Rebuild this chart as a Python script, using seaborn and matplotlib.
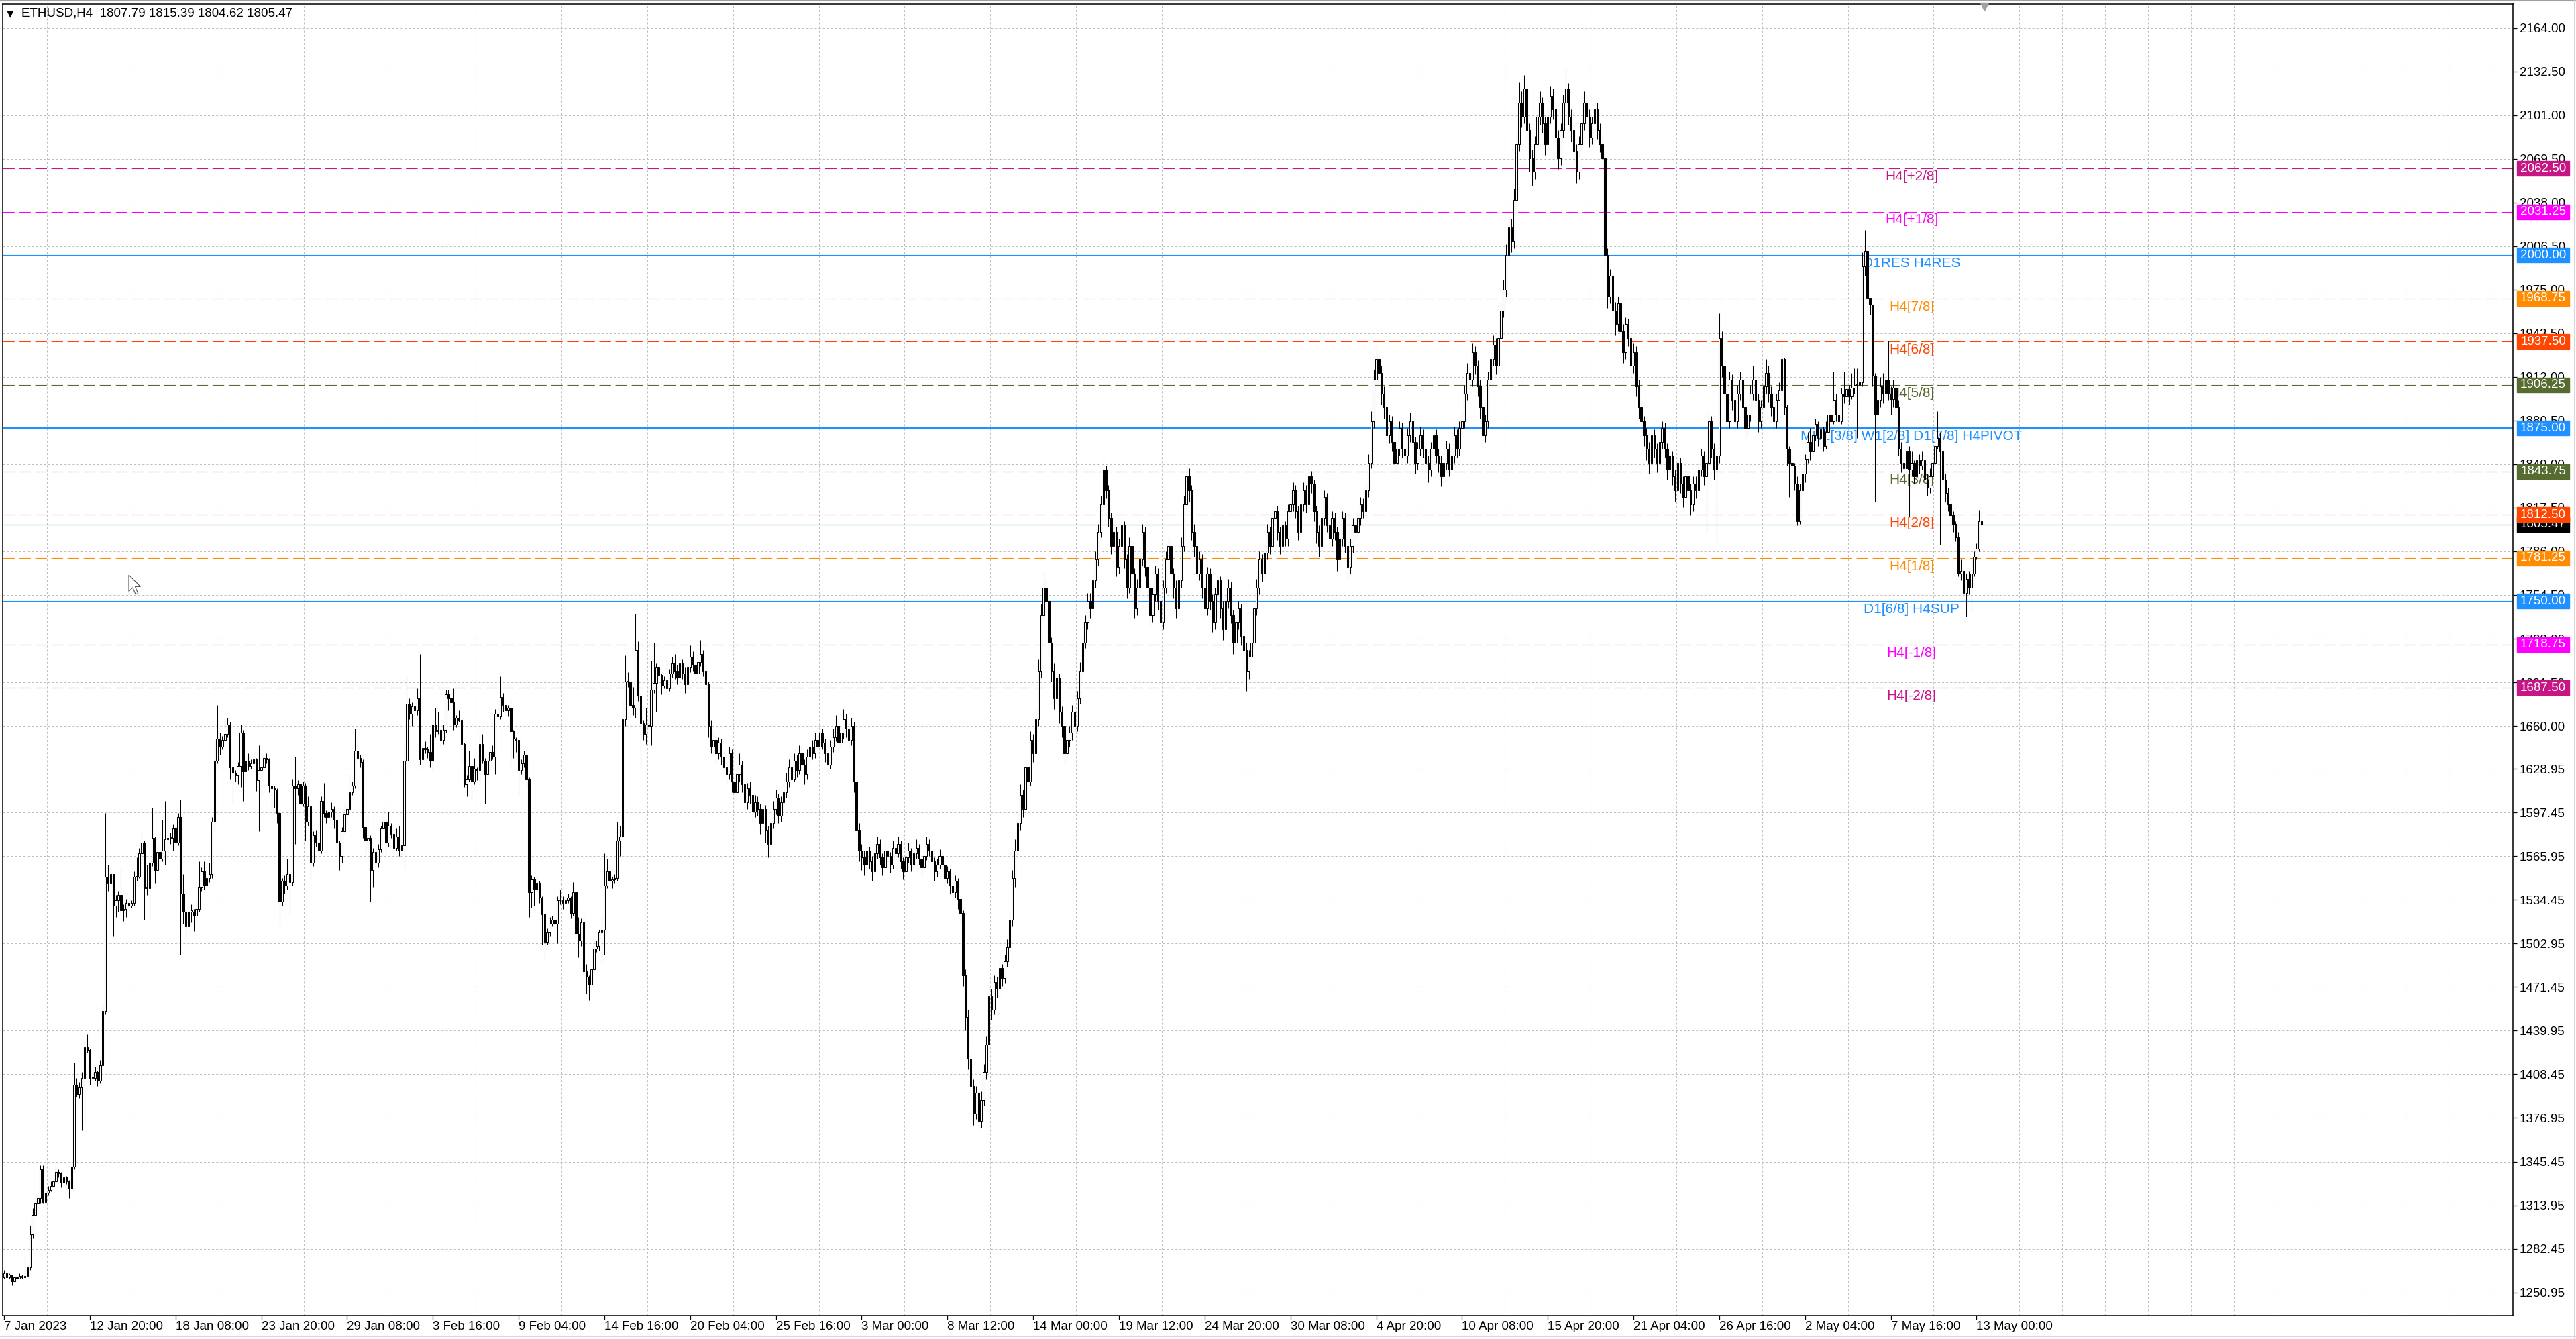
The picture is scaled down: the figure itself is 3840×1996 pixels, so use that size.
import numpy as np
import pandas as pd
import matplotlib
matplotlib.use("Agg")
import matplotlib.pyplot as plt
import matplotlib.transforms as mtransforms
from matplotlib.patches import Rectangle, Polygon
from matplotlib.lines import Line2D
import seaborn as sns

# ETHUSD H4 bars (close / high / low); open = previous close
first_open = 1262
close = [
    1265, 1262, 1264, 1259, 1262, 1261, 1263, 1262, 1263, 1269,
    1293, 1307, 1315, 1319, 1340, 1316, 1323, 1325, 1328, 1331,
    1338, 1337, 1330, 1334, 1331, 1326, 1342, 1401, 1394, 1399,
    1406, 1428, 1426, 1406, 1406, 1410, 1404, 1415, 1454, 1551,
    1546, 1553, 1530, 1534, 1538, 1527, 1528, 1532, 1530, 1532,
    1551, 1551, 1568, 1576, 1543, 1543, 1561, 1579, 1556, 1569,
    1564, 1570,
    1578, 1579, 1579, 1586, 1576, 1594, 1539, 1526, 1515, 1526,
    1526, 1523, 1528, 1544, 1555, 1545, 1550, 1553, 1591, 1635,
    1651, 1645, 1650, 1654, 1661, 1630, 1626, 1624, 1631, 1655,
    1627, 1635, 1631, 1633, 1636, 1621, 1628, 1630, 1637, 1636,
    1617, 1615, 1614, 1597, 1533, 1548, 1545, 1553, 1547, 1617,
    1615, 1618, 1604, 1617, 1591, 1602, 1561, 1581, 1576, 1570,
    1606, 1597, 1594, 1598, 1600, 1592, 1576,
    1566, 1584, 1596, 1600, 1612, 1617, 1642, 1637, 1634, 1587,
    1577, 1579, 1556, 1569, 1561, 1571, 1586, 1591, 1576, 1588,
    1582, 1572, 1580, 1570, 1574, 1635, 1676, 1669, 1674, 1671,
    1680, 1636, 1644, 1643, 1641, 1635, 1661, 1656, 1657, 1650,
    1657, 1683, 1680, 1677, 1661, 1666, 1664, 1647, 1618, 1622,
    1631, 1620, 1629, 1628, 1647, 1635, 1625, 1635, 1641, 1638,
    1669, 1667, 1681, 1675, 1671,
    1673, 1656, 1651, 1650, 1628, 1633, 1639, 1622, 1540, 1549,
    1542, 1546, 1536, 1524, 1504, 1511, 1517, 1520, 1517, 1534,
    1534, 1532, 1534, 1536, 1525, 1540, 1510, 1505, 1518, 1483,
    1479, 1473, 1484, 1499, 1501, 1511, 1513, 1545, 1555, 1548,
    1549, 1550, 1577, 1580, 1665, 1692, 1692, 1675, 1673, 1715,
    1682, 1662, 1654, 1661, 1660, 1686, 1691, 1702, 1697, 1689,
    1693, 1687, 1698, 1705,
    1700, 1695, 1705, 1698, 1690, 1702, 1710, 1704, 1698, 1706,
    1712, 1700, 1690, 1660, 1645, 1650, 1640, 1648, 1638, 1630,
    1625, 1640, 1620, 1612, 1625, 1632, 1618, 1605, 1615, 1610,
    1598, 1605, 1600, 1590, 1600, 1585, 1575, 1590, 1600, 1608,
    1595, 1605, 1612, 1620, 1630, 1622, 1635, 1628, 1640, 1632,
    1625, 1638, 1645, 1640, 1650, 1645, 1655, 1648, 1640, 1632,
    1645, 1652, 1660, 1648, 1655, 1665, 1658, 1650, 1660, 1620,
    1585, 1570, 1565, 1560, 1570, 1562, 1555, 1568, 1575, 1565,
    1558, 1570, 1566, 1560, 1572, 1568, 1575, 1562, 1555, 1565,
    1570, 1560, 1568, 1572, 1564, 1558, 1566, 1575, 1570, 1562,
    1555, 1560, 1566, 1560, 1550, 1555, 1545, 1540, 1548, 1535,
    1525, 1480, 1450, 1420, 1400, 1380, 1395, 1375, 1390, 1410,
    1430, 1465, 1455, 1475, 1470, 1485, 1478, 1490, 1500, 1520,
    1550, 1570, 1590, 1610, 1600, 1630, 1620, 1650, 1640, 1665,
    1700, 1740, 1760, 1750, 1720, 1700, 1680, 1695, 1670, 1660,
    1640, 1650, 1655, 1670, 1660, 1680, 1700, 1720, 1735, 1750,
    1745, 1765, 1780, 1800, 1820, 1845, 1830, 1810, 1790, 1800,
    1775, 1790, 1805, 1780, 1760, 1790, 1770, 1745, 1760, 1780,
    1800, 1775, 1760, 1740, 1755, 1770, 1750, 1735, 1760, 1780,
    1790, 1770, 1760, 1745, 1765, 1790, 1820, 1840, 1830, 1800,
    1790, 1770, 1780, 1760, 1745, 1770, 1750, 1735, 1755, 1765,
    1745, 1730, 1750, 1760, 1740, 1720, 1735, 1745, 1725, 1715,
    1700, 1710, 1720, 1745, 1760, 1780, 1770, 1785, 1800, 1790,
    1810, 1815, 1800, 1790, 1805, 1795, 1815, 1820, 1830, 1815,
    1800, 1820, 1830, 1820, 1840, 1835, 1815, 1800, 1790, 1810,
    1825, 1805, 1795, 1810, 1800, 1780, 1795, 1810, 1790, 1775,
    1790, 1805, 1800, 1810, 1820, 1815, 1830, 1850, 1880, 1910,
    1925, 1915, 1900, 1890, 1870, 1880, 1865, 1850, 1860, 1875,
    1860, 1855, 1870, 1880, 1865, 1850, 1860, 1870, 1860, 1850,
    1845, 1860, 1870, 1855, 1850, 1840, 1850, 1860, 1845, 1855,
    1870, 1860, 1875, 1880, 1900, 1915, 1910, 1930, 1920, 1905,
    1890, 1870, 1880, 1910, 1925, 1935, 1920, 1940, 1960, 1975,
    2000, 2020, 2010, 2040, 2080, 2110, 2100, 2120, 2090, 2070,
    2060, 2080, 2100, 2110, 2095, 2080, 2100, 2115, 2105, 2085,
    2070, 2090, 2110, 2120, 2100, 2090, 2075, 2060, 2080, 2095,
    2110, 2100, 2085, 2095, 2105, 2090, 2080, 2070, 2000, 1970,
    1985, 1960, 1950, 1965, 1945, 1930, 1950, 1940, 1920, 1930,
    1905, 1890, 1880, 1870, 1860, 1850, 1870, 1860, 1850, 1865,
    1875, 1860, 1845, 1855, 1840, 1830, 1850, 1835, 1825, 1840,
    1830, 1820, 1835, 1830, 1845, 1855, 1840, 1850, 1880, 1860,
    1845, 1855, 1940, 1920, 1900, 1880, 1910, 1895, 1880, 1900,
    1910, 1890, 1875, 1885, 1900, 1910, 1895, 1880, 1890, 1905,
    1915, 1900, 1890, 1880, 1895,
    1902, 1925, 1890, 1860, 1850, 1848, 1835, 1808, 1830, 1842,
    1853, 1865, 1858, 1870, 1878, 1868, 1874, 1862, 1872, 1885,
    1880, 1895, 1885, 1880, 1900, 1898, 1903, 1898, 1904, 1906,
    1906, 1908, 1992, 2003, 1969, 1964, 1913, 1885, 1895, 1905,
    1900, 1910, 1900, 1896, 1904, 1890, 1860, 1850, 1846, 1858,
    1845, 1850, 1840, 1852, 1848, 1852, 1838, 1832, 1840, 1850,
    1862, 1868, 1858, 1838, 1828, 1820, 1812, 1806, 1796, 1770,
    1772, 1756, 1766, 1760, 1770, 1782, 1788, 1807.79, 1805.47,
]
high = [
    1267, 1264, 1265, 1264, 1263, 1263, 1265, 1264, 1278, 1272,
    1299, 1312, 1321, 1322, 1343, 1343, 1326, 1328, 1331, 1333,
    1345, 1340, 1338, 1336, 1335, 1332, 1345, 1417, 1406, 1403,
    1410, 1432, 1437, 1427, 1409, 1414, 1411, 1419, 1460, 1597,
    1560, 1557, 1551, 1538, 1541, 1559, 1531, 1535, 1534, 1534,
    1555, 1565, 1572, 1585, 1577, 1560, 1565, 1601, 1580, 1575,
    1570, 1592,
    1606, 1597, 1583, 1589, 1588, 1597, 1607, 1553, 1528, 1530,
    1531, 1528, 1535, 1562, 1558, 1562, 1553, 1561, 1594, 1649,
    1675, 1655, 1653, 1665, 1666, 1663, 1632, 1628, 1634, 1661,
    1657, 1638, 1640, 1636, 1640, 1637, 1646, 1633, 1640, 1640,
    1637, 1619, 1617, 1615, 1599, 1550, 1552, 1564, 1556, 1622,
    1638, 1621, 1620, 1620, 1619, 1609, 1604, 1584, 1585, 1578,
    1609, 1619, 1599, 1601, 1605, 1602, 1580,
    1577, 1587, 1605, 1603, 1625, 1620, 1658, 1652, 1639, 1636,
    1594, 1595, 1581, 1572, 1572, 1575, 1588, 1603, 1593, 1598,
    1590, 1584, 1586, 1588, 1578, 1646, 1696, 1680, 1677, 1679,
    1687, 1712, 1647, 1649, 1645, 1654, 1665, 1673, 1670, 1659,
    1661, 1686, 1686, 1684, 1687, 1668, 1671, 1665, 1648, 1624,
    1642, 1632, 1637, 1630, 1657, 1654, 1637, 1638, 1644, 1646,
    1672, 1679, 1696, 1684, 1677,
    1675, 1680, 1657, 1652, 1651, 1636, 1642, 1647, 1623, 1552,
    1551, 1553, 1548, 1537, 1525, 1514, 1522, 1523, 1522, 1537,
    1542, 1537, 1537, 1539, 1537, 1547, 1541, 1522, 1521, 1524,
    1488, 1480, 1487, 1509, 1505, 1513, 1523, 1568, 1564, 1560,
    1551, 1553, 1591, 1588, 1678, 1711, 1699, 1695, 1688, 1741,
    1721, 1684, 1664, 1673, 1668, 1707, 1720, 1705, 1704, 1698,
    1696, 1712, 1701, 1710,
    1712, 1704, 1710, 1708, 1702, 1706, 1718, 1714, 1707, 1712,
    1722, 1715, 1704, 1692, 1664, 1656, 1654, 1652, 1651, 1642,
    1636, 1645, 1643, 1624, 1630, 1640, 1635, 1622, 1619, 1620,
    1613, 1610, 1609, 1604, 1605, 1603, 1588, 1594, 1606, 1614,
    1611, 1609, 1618, 1626, 1636, 1633, 1640, 1639, 1646, 1644,
    1636, 1643, 1652, 1650, 1655, 1654, 1660, 1658, 1651, 1644,
    1650, 1658, 1668, 1663, 1660, 1672, 1669, 1662, 1666, 1663,
    1624, 1590, 1575, 1570, 1574, 1573, 1566, 1572, 1580, 1578,
    1568, 1574, 1573, 1569, 1577, 1575, 1580, 1577, 1565, 1569,
    1576, 1572, 1572, 1578, 1575, 1567, 1570, 1580, 1578, 1572,
    1565, 1564, 1571, 1569, 1562, 1559, 1557, 1549, 1552, 1550,
    1538, 1527, 1484, 1455, 1424, 1405, 1400, 1398, 1396, 1416,
    1436, 1472, 1470, 1480, 1479, 1490, 1488, 1495, 1506, 1526,
    1556, 1578, 1598, 1618, 1614, 1636, 1634, 1656, 1654, 1672,
    1708, 1748, 1772, 1766, 1754, 1724, 1705, 1700, 1698, 1674,
    1664, 1655, 1660, 1675, 1674, 1685, 1706, 1726, 1740, 1756,
    1756, 1770, 1786, 1806, 1826, 1852, 1848, 1834, 1814, 1806,
    1804, 1795, 1810, 1808, 1784, 1796, 1794, 1774, 1766, 1786,
    1806, 1804, 1780, 1764, 1760, 1776, 1774, 1755, 1765, 1786,
    1796, 1794, 1774, 1765, 1770, 1796, 1826, 1848, 1846, 1834,
    1806, 1795, 1786, 1784, 1765, 1775, 1774, 1755, 1760, 1770,
    1768, 1750, 1755, 1766, 1764, 1744, 1740, 1750, 1748, 1730,
    1720, 1715, 1726, 1750, 1766, 1786, 1784, 1790, 1806, 1804,
    1815, 1822, 1819, 1804, 1810, 1808, 1820, 1826, 1836, 1834,
    1819, 1825, 1836, 1834, 1846, 1844, 1838, 1819, 1805, 1815,
    1830, 1828, 1810, 1815, 1814, 1804, 1800, 1815, 1814, 1794,
    1795, 1810, 1809, 1815, 1825, 1824, 1835, 1856, 1887, 1917,
    1935, 1930, 1920, 1905, 1894, 1885, 1884, 1869, 1866, 1880,
    1879, 1865, 1875, 1886, 1884, 1869, 1865, 1876, 1874, 1864,
    1855, 1865, 1876, 1874, 1860, 1855, 1855, 1866, 1864, 1860,
    1876, 1874, 1880, 1886, 1906, 1922, 1920, 1936, 1934, 1924,
    1910, 1894, 1885, 1916, 1930, 1942, 1940, 1946, 1966, 1982,
    2008, 2028, 2026, 2048, 2090, 2125, 2118, 2130, 2124, 2095,
    2076, 2086, 2106, 2118, 2114, 2100, 2106, 2122, 2120, 2110,
    2090, 2095, 2116, 2135, 2124, 2105, 2095, 2080, 2086, 2100,
    2118, 2115, 2105, 2100, 2112, 2110, 2095, 2086, 2074, 2005,
    1990, 1988, 1966, 1970, 1968, 1950, 1955, 1954, 1944, 1936,
    1934, 1910, 1895, 1884, 1875, 1865, 1875, 1874, 1864, 1870,
    1880, 1879, 1864, 1860, 1858, 1845, 1855, 1854, 1840, 1845,
    1844, 1835, 1840, 1840, 1850, 1860, 1858, 1855, 1886, 1884,
    1864, 1860, 1958, 1945, 1925, 1905, 1916, 1914, 1900, 1906,
    1916, 1914, 1895, 1890, 1906, 1920, 1914, 1900, 1895, 1910,
    1925, 1920, 1905, 1895, 1900,
    1908, 1937, 1926, 1892, 1862, 1856, 1850, 1840, 1835, 1846,
    1856, 1872, 1875, 1876, 1882, 1880, 1878, 1876, 1880, 1890,
    1888, 1916, 1900, 1890, 1904, 1916, 1908, 1906, 1915, 1918,
    1918, 1912, 2002, 2018, 2005, 1968, 1960, 1915, 1900, 1912,
    1915, 1926, 1938, 1905, 1910, 1908, 1895, 1865, 1860, 1864,
    1862, 1858, 1852, 1856, 1856, 1858, 1854, 1842, 1846, 1858,
    1866, 1887, 1872, 1860, 1842, 1832, 1825, 1815, 1808, 1800,
    1780, 1774, 1770, 1772, 1782, 1786, 1792, 1816, 1815.39,
]
low = [
    1261, 1261, 1261, 1256, 1258, 1259, 1261, 1261, 1261, 1262,
    1267, 1290, 1306, 1314, 1315, 1315, 1315, 1321, 1324, 1325,
    1330, 1334, 1327, 1328, 1329, 1319, 1324, 1340, 1392, 1391,
    1368, 1372, 1424, 1401, 1403, 1404, 1400, 1402, 1440, 1452,
    1541, 1544, 1508, 1522, 1526, 1520, 1519, 1522, 1526, 1529,
    1530, 1548, 1550, 1560, 1520, 1538, 1520, 1559, 1546, 1553,
    1561, 1562,
    1560, 1569, 1575, 1570, 1572, 1574, 1495, 1517, 1507, 1513,
    1518, 1512, 1518, 1526, 1541, 1542, 1543, 1547, 1550, 1583,
    1633, 1639, 1643, 1649, 1652, 1622, 1604, 1620, 1618, 1616,
    1606, 1620, 1628, 1629, 1630, 1613, 1584, 1609, 1628, 1633,
    1612, 1600, 1601, 1590, 1516, 1530, 1539, 1542, 1524, 1545,
    1575, 1610, 1600, 1602, 1577, 1588, 1549, 1559, 1573, 1566,
    1568, 1594, 1590, 1592, 1594, 1586, 1566,
    1556, 1561, 1582, 1588, 1598, 1610, 1615, 1634, 1630, 1579,
    1567, 1571, 1533, 1544, 1558, 1558, 1569, 1584, 1564, 1573,
    1579, 1566, 1570, 1566, 1563, 1557, 1632, 1665, 1660, 1668,
    1668, 1632, 1629, 1640, 1637, 1630, 1627, 1652, 1654, 1645,
    1647, 1655, 1671, 1671, 1657, 1659, 1663, 1634, 1616, 1609,
    1620, 1607, 1618, 1621, 1618, 1633, 1604, 1621, 1628, 1636,
    1625, 1664, 1665, 1670, 1668,
    1667, 1630, 1637, 1641, 1610, 1625, 1630, 1615, 1522, 1529,
    1530, 1539, 1532, 1502, 1490, 1502, 1508, 1515, 1514, 1503,
    1531, 1528, 1530, 1532, 1521, 1523, 1507, 1493, 1501, 1479,
    1467, 1462, 1470, 1482, 1497, 1498, 1489, 1495, 1543, 1546,
    1543, 1546, 1548, 1566, 1578, 1660, 1688, 1666, 1668, 1666,
    1678, 1630, 1650, 1647, 1657, 1646, 1684, 1670, 1694, 1683,
    1687, 1685, 1685, 1695,
    1694, 1690, 1692, 1694, 1684, 1687, 1699, 1700, 1692, 1695,
    1703, 1696, 1684, 1652, 1640, 1640, 1633, 1636, 1632, 1622,
    1618, 1622, 1612, 1605, 1608, 1620, 1612, 1598, 1600, 1604,
    1590, 1594, 1595, 1582, 1586, 1576, 1565, 1571, 1586, 1596,
    1590, 1591, 1600, 1608, 1616, 1617, 1620, 1623, 1625, 1628,
    1618, 1622, 1634, 1636, 1637, 1640, 1642, 1643, 1634, 1626,
    1629, 1641, 1649, 1642, 1644, 1651, 1652, 1644, 1646, 1612,
    1578, 1562, 1556, 1552, 1556, 1557, 1548, 1552, 1564, 1560,
    1552, 1555, 1561, 1554, 1557, 1563, 1565, 1557, 1549, 1551,
    1561, 1555, 1557, 1564, 1560, 1551, 1554, 1563, 1566, 1557,
    1548, 1551, 1557, 1555, 1544, 1546, 1539, 1533, 1536, 1528,
    1518, 1472, 1440, 1412, 1390, 1372, 1376, 1368, 1370, 1386,
    1405, 1426, 1448, 1452, 1464, 1466, 1472, 1474, 1486, 1496,
    1515, 1544, 1565, 1585, 1594, 1596, 1614, 1617, 1634, 1636,
    1660, 1695, 1735, 1742, 1712, 1692, 1672, 1675, 1662, 1652,
    1632, 1636, 1645, 1650, 1654, 1656, 1676, 1696, 1716, 1730,
    1738, 1741, 1760, 1776, 1796, 1815, 1824, 1804, 1784, 1785,
    1768, 1770, 1786, 1774, 1752, 1756, 1764, 1738, 1740, 1756,
    1776, 1768, 1752, 1732, 1735, 1750, 1744, 1728, 1730, 1756,
    1775, 1764, 1752, 1738, 1740, 1760, 1786, 1815, 1822, 1794,
    1782, 1762, 1765, 1752, 1738, 1740, 1744, 1728, 1730, 1750,
    1738, 1722, 1725, 1745, 1734, 1712, 1715, 1730, 1718, 1700,
    1685, 1694, 1705, 1716, 1740, 1755, 1764, 1765, 1780, 1784,
    1786, 1805, 1794, 1784, 1786, 1790, 1790, 1810, 1815, 1810,
    1794, 1796, 1815, 1814, 1815, 1828, 1808, 1792, 1782, 1786,
    1805, 1800, 1786, 1790, 1794, 1772, 1775, 1790, 1785, 1766,
    1770, 1785, 1794, 1796, 1805, 1810, 1810, 1825, 1846, 1875,
    1905, 1908, 1892, 1882, 1862, 1864, 1858, 1842, 1845, 1855,
    1854, 1848, 1850, 1865, 1860, 1842, 1845, 1855, 1854, 1843,
    1836, 1840, 1855, 1850, 1843, 1833, 1835, 1845, 1840, 1840,
    1850, 1854, 1855, 1870, 1875, 1895, 1904, 1905, 1914, 1898,
    1882, 1862, 1865, 1875, 1905, 1920, 1914, 1915, 1935, 1955,
    1970, 1995, 2002, 2005, 2035, 2075, 2092, 2095, 2082, 2060,
    2050, 2055, 2075, 2094, 2088, 2072, 2075, 2095, 2098, 2078,
    2062, 2065, 2085, 2105, 2094, 2082, 2066, 2052, 2055, 2075,
    2090, 2094, 2078, 2080, 2090, 2084, 2074, 2062, 1992, 1962,
    1965, 1952, 1942, 1945, 1938, 1922, 1925, 1934, 1912, 1915,
    1898, 1882, 1872, 1862, 1852, 1842, 1845, 1854, 1843, 1845,
    1860, 1854, 1838, 1840, 1834, 1822, 1825, 1828, 1818, 1820,
    1824, 1812, 1815, 1824, 1826, 1840, 1834, 1800, 1845, 1854,
    1838, 1792, 1850, 1912, 1892, 1872, 1875, 1888, 1872, 1875,
    1895, 1884, 1868, 1870, 1880, 1895, 1888, 1872, 1875, 1885,
    1900, 1894, 1884, 1872, 1875,
    1895, 1898, 1885, 1848, 1825, 1840, 1830, 1805, 1806, 1828,
    1836, 1850, 1852, 1855, 1866, 1862, 1860, 1858, 1860, 1868,
    1870, 1878, 1880, 1876, 1878, 1893, 1895, 1892, 1896, 1900,
    1868, 1898, 1905, 1985, 1960, 1957, 1905, 1822, 1880, 1890,
    1893, 1898, 1895, 1885, 1890, 1882, 1855, 1843, 1838, 1842,
    1811, 1840, 1835, 1838, 1842, 1845, 1832, 1826, 1828, 1836,
    1848, 1860, 1791, 1835, 1822, 1815, 1804, 1800, 1793, 1768,
    1765, 1752, 1739, 1755, 1743, 1768, 1780, 1786, 1804.62,
]

x_labels = [
    "7 Jan 2023", "12 Jan 20:00", "18 Jan 08:00", "23 Jan 20:00", "29 Jan 08:00",
    "3 Feb 16:00", "9 Feb 04:00", "14 Feb 16:00", "20 Feb 04:00", "25 Feb 16:00",
    "3 Mar 00:00", "8 Mar 12:00", "14 Mar 00:00", "19 Mar 12:00", "24 Mar 20:00",
    "30 Mar 08:00", "4 Apr 20:00", "10 Apr 08:00", "15 Apr 20:00", "21 Apr 04:00",
    "26 Apr 16:00", "2 May 04:00", "7 May 16:00", "13 May 00:00",
]
y_ticks = [
    2164.00, 2132.50, 2101.00, 2069.50, 2038.00, 2006.50, 1975.00, 1943.50,
    1912.00, 1880.50, 1849.00, 1817.50, 1786.00, 1754.50, 1723.00, 1691.50,
    1660.00, 1628.95, 1597.45, 1565.95, 1534.45, 1502.95, 1471.45, 1439.95,
    1408.45, 1376.95, 1345.45, 1313.95, 1282.45, 1250.95,
]

level_prices = [2062.50, 2031.25, 2000.00, 1968.75, 1937.50, 1906.25, 1875.00,
                1843.75, 1812.50, 1781.25, 1750.00, 1718.75, 1687.50]
level_names = ["H4[+2/8]", "H4[+1/8]", "D1RES H4RES", "H4[7/8]", "H4[6/8]", "H4[5/8]",
               "MN1[3/8] W1[2/8] D1[7/8] H4PIVOT", "H4[3/8]", "H4[2/8]", "H4[1/8]",
               "D1[6/8] H4SUP", "H4[-1/8]", "H4[-2/8]"]
level_colors = ["#C71585", "#FF00FF", "#1E90FF", "#FF8C00", "#FF4500", "#556B2F", "#1E90FF",
                "#556B2F", "#FF4500", "#FF8C00", "#1E90FF", "#FF00FF", "#C71585"]
level_solid = [False, False, True, False, False, False, True,
               False, False, False, True, False, False]

sns.set_theme(style="white")
plt.rcParams["font.family"] = ["Liberation Sans", "DejaVu Sans"]
plt.rcParams["lines.scale_dashes"] = False

# build OHLC frame
df = pd.DataFrame({"close": close, "high": high, "low": low})
df["open"] = df["close"].shift(1).fillna(first_open)
df["high"] = df[["high", "open", "close"]].max(axis=1)
df["low"] = df[["low", "open", "close"]].min(axis=1)
df["x"] = np.arange(len(df))
df["up"] = df["close"] >= df["open"]
df["body_lo"] = df[["open", "close"]].min(axis=1)
df["body_h"] = (df["close"] - df["open"]).abs().clip(lower=0.7)

W, H = 3840, 1996
fig = plt.figure(figsize=(W / 100, H / 100), dpi=100)
fig.patch.set_facecolor("white")
ax_l, ax_r, ax_t, ax_b = 4, 3746, 6, 1961
ax = fig.add_axes([ax_l / W, 1 - ax_b / H, (ax_r - ax_l) / W, (ax_b - ax_t) / H])
ax.set_facecolor("white")
ax.set_xlim(-0.52, 965.4)
ax.set_ylim(1234.3, 2181.2)

# grid
ax.set_yticks(y_ticks)
ax.set_yticklabels([f"{v:.2f}" for v in y_ticks])
ax.set_xticks([33 * k for k in range(len(x_labels))])
ax.set_xticklabels(x_labels)
ax.set_xticks(np.arange(16.5, 966, 16.5), minor=True)
ax.grid(False)
ax.grid(True, which="major", axis="y", color="#BEBEBE", lw=0.75, linestyle=(0, (2.2, 2.2)), zorder=0)
ax.grid(True, which="minor", axis="x", color="#BEBEBE", lw=0.75, linestyle=(0, (2.2, 2.2)), zorder=0)
ax.set_axisbelow(True)

ax.yaxis.tick_right()
ax.tick_params(axis="y", which="major", direction="out", length=4, width=0.9,
               pad=3, labelsize=13.5, colors="black", right=True, left=False)
ax.tick_params(axis="x", which="major", direction="out", length=4, width=0.9,
               pad=2, labelsize=13.5, colors="black", bottom=True)
ax.tick_params(axis="x", which="minor", length=0)
for lab in ax.get_xticklabels():
    lab.set_horizontalalignment("left")
for sp in ax.spines.values():
    sp.set_color("black")
    sp.set_linewidth(1.1)

# level lines
for price, color, solid in zip(level_prices, level_colors, level_solid):
    if solid:
        lw = 2.2 if price == 1875.00 else 0.85
        ax.axhline(price, color=color, lw=lw, zorder=2)
    else:
        ax.axhline(price, color=color, lw=0.8, dashes=(12.5, 4.8), zorder=2)

# current price line
last = df.iloc[-1]
ax.axhline(last["close"], color="#C0C0C0", lw=1.0, zorder=2)

# level labels
for price, name, color in zip(level_prices, level_names, level_colors):
    ax.text(734, price - 6.0, name, color=color, fontsize=15, ha="center", va="center", zorder=3)

# candles
ax.vlines(df["x"], df["low"], df["high"], color="black", lw=0.75, zorder=4)
up = df[df["up"]]
dn = df[~df["up"]]
ax.bar(up["x"], up["body_h"], bottom=up["body_lo"], width=0.62, color="white",
       edgecolor="black", linewidth=0.75, zorder=5)
ax.bar(dn["x"], dn["body_h"], bottom=dn["body_lo"], width=0.62, color="black",
       edgecolor="black", linewidth=0.75, zorder=5)

# price tags on right axis (they sit over the tick labels, as in the terminal)
trans = mtransforms.blended_transform_factory(ax.transAxes, ax.transData)
tag_x, tag_w, tag_h = 1.0016, 0.0209, 10.6
tags = [(last["close"], "black")] + list(zip(level_prices, level_colors))
for z, (price, color) in enumerate(tags):
    ax.add_patch(Rectangle((tag_x, price - tag_h / 2), tag_w, tag_h, transform=trans,
                           facecolor=color, edgecolor=color, clip_on=False, zorder=10 + z))
    ax.text(tag_x + tag_w / 2, price, f"{price:.2f}", transform=trans, color="white",
            fontsize=13.5, ha="center", va="center", clip_on=False, zorder=10 + z)

# chart shift marker
ax.plot([762], [2179.5], marker="v", color="#A0A0A0", markersize=8, clip_on=False, zorder=11)

# mouse pointer left in the screenshot
cur_x, cur_y, s = 192, 857, 1.45
arrow = [(0, 0), (0, 17), (4, 13), (7, 20), (9.5, 19), (6.5, 12), (12, 12)]
fig.add_artist(Polygon([((cur_x + s * px) / W, 1 - (cur_y + s * py) / H) for px, py in arrow],
                       closed=True, facecolor="white", edgecolor="#505050", lw=0.8))

# header
fig.text(10 / W, 1 - 20 / H, "\u25bc", fontsize=10, family="DejaVu Sans", va="center", color="black")
fig.text(32 / W, 1 - 20 / H,
         f"ETHUSD,H4  {last['open']:.2f} {last['high']:.2f} {last['low']:.2f} {last['close']:.2f}",
         fontsize=13.5, va="center", color="black")

# window frame
fig.add_artist(Line2D([0, 1], [1 - 1 / H, 1 - 1 / H], color="#A0A0A0", lw=1.5))
fig.add_artist(Line2D([0, 1], [4 / H, 4 / H], color="#D8D8D8", lw=1.5))
fig.add_artist(Line2D([1 - 2 / W, 1 - 2 / W], [0, 1], color="#D8D8D8", lw=1.5))

fig.savefig("out.png", dpi=100, facecolor="white")
